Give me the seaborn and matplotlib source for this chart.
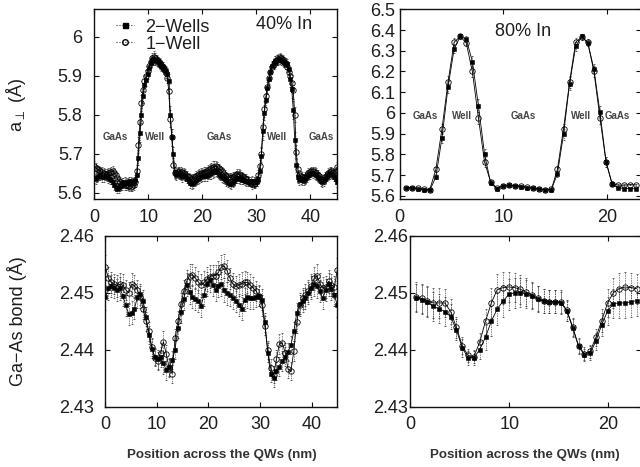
import numpy as np
import matplotlib
matplotlib.use("Agg")
import matplotlib.pyplot as plt
from matplotlib.lines import Line2D
from matplotlib import font_manager as fm
import seaborn as sns

# ---------------- data ----------------
# Top-left: lattice parameter a_perp, 40% In (Angstrom)
x_tl = np.arange(161) * 0.28125
tl_two = [5.637, 5.634, 5.640, 5.643, 5.645, 5.641, 5.640, 5.644, 5.642, 5.638,
          5.635, 5.633, 5.628, 5.620, 5.615, 5.610, 5.612, 5.617, 5.620, 5.626,
          5.628, 5.624, 5.625, 5.629, 5.630, 5.626, 5.628, 5.632, 5.645, 5.690,
          5.752, 5.798, 5.848, 5.876, 5.889, 5.905, 5.920, 5.932, 5.940, 5.943,
          5.940, 5.937, 5.935, 5.930, 5.925, 5.922, 5.918, 5.912, 5.905, 5.885,
          5.800, 5.742, 5.700, 5.652, 5.645, 5.650, 5.648, 5.644, 5.640, 5.645,
          5.642, 5.636, 5.630, 5.625, 5.622, 5.625, 5.628, 5.632, 5.635, 5.638,
          5.640, 5.644, 5.645, 5.643, 5.642, 5.646, 5.648, 5.650, 5.652, 5.654,
          5.655, 5.652, 5.648, 5.643, 5.640, 5.638, 5.635, 5.630, 5.625, 5.623,
          5.622, 5.626, 5.630, 5.635, 5.638, 5.637, 5.635, 5.633, 5.632, 5.631,
          5.630, 5.629, 5.628, 5.630, 5.630, 5.627, 5.628, 5.630, 5.635, 5.655,
          5.695, 5.757, 5.805, 5.838, 5.868, 5.892, 5.910, 5.924, 5.932, 5.937,
          5.940, 5.941, 5.942, 5.940, 5.937, 5.935, 5.933, 5.930, 5.918, 5.892,
          5.865, 5.812, 5.735, 5.670, 5.640, 5.632, 5.635, 5.632, 5.630, 5.635,
          5.640, 5.645, 5.648, 5.650, 5.650, 5.648, 5.645, 5.640, 5.635, 5.630,
          5.628, 5.630, 5.635, 5.640, 5.645, 5.648, 5.650, 5.646, 5.640, 5.634,
          5.628]
tl_one = [5.668, 5.664, 5.660, 5.657, 5.655, 5.652, 5.650, 5.649, 5.648, 5.650,
          5.652, 5.654, 5.655, 5.650, 5.645, 5.638, 5.630, 5.627, 5.625, 5.622,
          5.620, 5.619, 5.618, 5.616, 5.615, 5.617, 5.620, 5.628, 5.655, 5.722,
          5.780, 5.830, 5.864, 5.885, 5.900, 5.912, 5.925, 5.936, 5.944, 5.947,
          5.945, 5.941, 5.937, 5.932, 5.927, 5.922, 5.916, 5.908, 5.895, 5.860,
          5.790, 5.742, 5.672, 5.650, 5.650, 5.654, 5.655, 5.654, 5.652, 5.650,
          5.648, 5.644, 5.640, 5.637, 5.635, 5.637, 5.640, 5.643, 5.645, 5.648,
          5.650, 5.651, 5.652, 5.654, 5.655, 5.658, 5.660, 5.663, 5.665, 5.667,
          5.668, 5.666, 5.662, 5.658, 5.655, 5.650, 5.645, 5.642, 5.640, 5.639,
          5.638, 5.640, 5.642, 5.645, 5.648, 5.647, 5.645, 5.642, 5.640, 5.637,
          5.635, 5.631, 5.628, 5.625, 5.622, 5.623, 5.625, 5.630, 5.645, 5.668,
          5.698, 5.768, 5.815, 5.848, 5.872, 5.893, 5.910, 5.922, 5.930, 5.936,
          5.940, 5.943, 5.945, 5.944, 5.940, 5.936, 5.930, 5.922, 5.910, 5.898,
          5.880, 5.862, 5.800, 5.705, 5.660, 5.645, 5.642, 5.640, 5.638, 5.641,
          5.645, 5.650, 5.652, 5.655, 5.655, 5.653, 5.650, 5.646, 5.642, 5.636,
          5.632, 5.635, 5.640, 5.645, 5.650, 5.653, 5.655, 5.652, 5.648, 5.655,
          5.665]
tl_err = [0.012, 0.013, 0.012, 0.011, 0.012, 0.013, 0.012, 0.011, 0.012, 0.013,
          0.012, 0.012, 0.013, 0.012, 0.011, 0.012, 0.013, 0.012, 0.012, 0.011,
          0.012, 0.013, 0.012, 0.012, 0.011, 0.012, 0.012, 0.013,
          0.015, 0.020, 0.022, 0.020, 0.018, 0.016, 0.015, 0.014,
          0.013, 0.013, 0.014, 0.015, 0.014, 0.013, 0.012, 0.012, 0.013, 0.012,
          0.012, 0.013, 0.014,
          0.018, 0.022, 0.022, 0.018, 0.015,
          0.012, 0.013, 0.012, 0.011, 0.012, 0.013, 0.012, 0.012, 0.011, 0.012,
          0.013, 0.012, 0.011, 0.012, 0.013, 0.012, 0.012, 0.013, 0.014, 0.013,
          0.012, 0.012, 0.013, 0.014, 0.015, 0.014, 0.013, 0.012, 0.012, 0.011,
          0.012, 0.013, 0.012, 0.012, 0.011, 0.012, 0.013, 0.012, 0.012, 0.011,
          0.012, 0.013, 0.012, 0.012, 0.011, 0.012, 0.013, 0.012, 0.012, 0.011,
          0.012, 0.012, 0.013, 0.012, 0.012,
          0.015, 0.020, 0.022, 0.020, 0.018, 0.016, 0.015, 0.014,
          0.013, 0.013, 0.014, 0.014, 0.013, 0.013, 0.012, 0.013, 0.013, 0.012,
          0.013,
          0.016, 0.020, 0.022, 0.022, 0.020, 0.016, 0.014,
          0.012, 0.013, 0.012, 0.011, 0.012, 0.013, 0.012, 0.012, 0.011, 0.012,
          0.013, 0.012, 0.012, 0.011, 0.012, 0.013, 0.012, 0.012, 0.011, 0.012,
          0.013, 0.012, 0.012, 0.011, 0.012, 0.013]

# Bottom-left: Ga-As bond length, 40% In (Angstrom)
x_bl = np.arange(81) * 0.5625
bl_two = [2.4492, 2.4508, 2.4512, 2.4509, 2.4505, 2.4508, 2.4495, 2.4478, 2.4463, 2.4465,
          2.4472, 2.4492, 2.4497, 2.4486, 2.4458, 2.4426, 2.4402, 2.4388, 2.4383, 2.4387,
          2.4376, 2.4364, 2.4369, 2.4382, 2.4400, 2.4438, 2.4466, 2.4489, 2.4514, 2.4502,
          2.4493, 2.4489, 2.4486, 2.4477, 2.4496, 2.4515, 2.4522, 2.4514, 2.4505, 2.4512,
          2.4516, 2.4505, 2.4499, 2.4496, 2.4491, 2.4485, 2.4478, 2.4472, 2.4488, 2.4492,
          2.4490, 2.4491, 2.4493, 2.4495, 2.4488, 2.4448, 2.4395, 2.4358, 2.4350, 2.4362,
          2.4370, 2.4380, 2.4388, 2.4396, 2.4408, 2.4432, 2.4464, 2.4481, 2.4485, 2.4490,
          2.4500, 2.4509, 2.4515, 2.4511, 2.4503, 2.4490, 2.4505, 2.4515, 2.4506, 2.4496,
          2.4478]
bl_one = [2.4545, 2.4525, 2.4518, 2.4515, 2.4512, 2.4515, 2.4513, 2.4505, 2.4500, 2.4515,
          2.4512, 2.4505, 2.4492, 2.4472, 2.4450, 2.4432, 2.4405, 2.4386, 2.4380, 2.4395,
          2.4414, 2.4392, 2.4368, 2.4358, 2.4420, 2.4450, 2.4480, 2.4503, 2.4520, 2.4530,
          2.4531, 2.4526, 2.4519, 2.4513, 2.4518, 2.4524, 2.4528, 2.4530, 2.4530, 2.4536,
          2.4545, 2.4547, 2.4538, 2.4525, 2.4515, 2.4511, 2.4513, 2.4516, 2.4518, 2.4518,
          2.4513, 2.4508, 2.4503, 2.4494, 2.4478, 2.4442, 2.4400, 2.4368, 2.4356, 2.4383,
          2.4410, 2.4412, 2.4395, 2.4366, 2.4362, 2.4398, 2.4448, 2.4478, 2.4490, 2.4496,
          2.4503, 2.4512, 2.4525, 2.4530, 2.4516, 2.4508, 2.4510, 2.4520, 2.4514, 2.4510,
          2.4540]
bl_err = [0.0022, 0.0020, 0.0019, 0.0018, 0.0019, 0.0020, 0.0019, 0.0018, 0.0019, 0.0020,
          0.0019, 0.0018, 0.0019, 0.0018, 0.0017, 0.0016, 0.0016, 0.0015, 0.0016, 0.0017,
          0.0018, 0.0017, 0.0016, 0.0016, 0.0017, 0.0018, 0.0019, 0.0019, 0.0020, 0.0021,
          0.0020, 0.0019, 0.0019, 0.0020, 0.0020, 0.0021, 0.0020, 0.0019, 0.0019, 0.0020,
          0.0021, 0.0021, 0.0020, 0.0019, 0.0019, 0.0018, 0.0019, 0.0020, 0.0020, 0.0019,
          0.0019, 0.0019, 0.0018, 0.0018, 0.0018, 0.0017, 0.0016, 0.0015, 0.0015, 0.0016,
          0.0017, 0.0017, 0.0016, 0.0016, 0.0016, 0.0017, 0.0018, 0.0018, 0.0019, 0.0019,
          0.0019, 0.0020, 0.0020, 0.0020, 0.0019, 0.0019, 0.0019, 0.0020, 0.0019, 0.0019,
          0.0020]

# Right panels: 80% In
x_r = 0.55 + np.arange(39) * 0.587
tr_two = [5.639, 5.638, 5.634, 5.630, 5.627, 5.691, 5.880, 6.125, 6.308, 6.369,
          6.356, 6.248, 6.035, 5.803, 5.663, 5.635, 5.647, 5.650, 5.647, 5.644,
          5.639, 5.636, 5.631, 5.628, 5.629, 5.707, 5.896, 6.141, 6.321, 6.369,
          6.337, 6.212, 6.003, 5.764, 5.655, 5.639, 5.635, 5.635, 5.633]
tr_one = [5.640, 5.639, 5.636, 5.632, 5.630, 5.728, 5.923, 6.149, 6.341, 6.369,
          6.337, 6.200, 5.976, 5.764, 5.667, 5.639, 5.648, 5.651, 5.649, 5.646,
          5.641, 5.638, 5.633, 5.630, 5.631, 5.728, 5.923, 6.149, 6.341, 6.366,
          6.340, 6.200, 5.976, 5.764, 5.659, 5.651, 5.651, 5.654, 5.652]
tr_err = [0.004, 0.004, 0.004, 0.004, 0.005, 0.012, 0.025, 0.030, 0.020, 0.012,
          0.015, 0.025, 0.030, 0.025, 0.010, 0.005, 0.004, 0.004, 0.004, 0.004,
          0.004, 0.004, 0.004, 0.004, 0.006, 0.015, 0.025, 0.030, 0.020, 0.012,
          0.015, 0.025, 0.030, 0.025, 0.010, 0.005, 0.004, 0.004, 0.004]
br_two = [2.4491, 2.4488, 2.4484, 2.4476, 2.4472, 2.4467, 2.4458, 2.4435, 2.4403, 2.4386,
          2.4386, 2.4400, 2.4422, 2.4450, 2.4471, 2.4485, 2.4497, 2.4500, 2.4500, 2.4498,
          2.4494, 2.4489, 2.4485, 2.4484, 2.4484, 2.4482, 2.4468, 2.4438, 2.4406, 2.4391,
          2.4394, 2.4415, 2.4444, 2.4468, 2.4481, 2.4482, 2.4482, 2.4484, 2.4486]
br_one = [2.4493, 2.4490, 2.4486, 2.4482, 2.4482, 2.4482, 2.4467, 2.4439, 2.4407, 2.4390,
          2.4388, 2.4413, 2.4450, 2.4482, 2.4505, 2.4509, 2.4510, 2.4509, 2.4506, 2.4501,
          2.4496, 2.4490, 2.4486, 2.4484, 2.4484, 2.4484, 2.4469, 2.4440, 2.4407, 2.4393,
          2.4397, 2.4422, 2.4451, 2.4482, 2.4500, 2.4507, 2.4510, 2.4509, 2.4507]
br_err = [0.0025, 0.0025, 0.0026, 0.0026, 0.0026, 0.0025, 0.0022, 0.0018, 0.0015, 0.0012,
          0.0012, 0.0016, 0.0022, 0.0026, 0.0028, 0.0028, 0.0027, 0.0026, 0.0025, 0.0024,
          0.0023, 0.0022, 0.0021, 0.0020, 0.0020, 0.0020, 0.0018, 0.0016, 0.0013, 0.0011,
          0.0012, 0.0015, 0.0020, 0.0024, 0.0026, 0.0027, 0.0027, 0.0026, 0.0026]

series_labels = ["2\u2212Wells", "1\u2212Well"]
panel_tags = ["40% In", "80% In"]
region_tl = [("GaAs", 3.95), ("Well", 11.3), ("GaAs", 23.05), ("Well", 33.9), ("GaAs", 42.0)]
region_tr = [("GaAs", 2.47), ("Well", 5.98), ("GaAs", 11.97), ("Well", 17.5), ("GaAs", 21.0)]

# ---------------- style ----------------
sns.set_style("ticks")
plt.rcParams["font.family"] = ["Liberation Sans", "DejaVu Sans"]
plt.rcParams["mathtext.fontset"] = "dejavusans"
names = {f.name for f in fm.fontManager.ttflist}
if "Liberation Sans Narrow" in names:
    narrow, xlab_size = "Liberation Sans Narrow", 11.5
else:
    narrow, xlab_size = "Liberation Sans", 9.6
TXT = "#1e1e1e"

fig = plt.figure(figsize=(6.4, 4.67), dpi=100)
ax_tl = fig.add_axes([0.1475, 0.5732, 0.3795, 0.4069])
ax_tr = fig.add_axes([0.6247, 0.5732, 0.3769, 0.4069])
ax_bl = fig.add_axes([0.1648, 0.1291, 0.3622, 0.3662])
ax_br = fig.add_axes([0.6411, 0.1291, 0.3605, 0.3662])


def draw(ax, x, y2, y1, err):
    for y in (y2, y1):
        eb = ax.errorbar(x, y, yerr=err, fmt="none", ecolor="#333333",
                         elinewidth=0.55, capsize=0.8, capthick=0.5, zorder=1)
        for coll in eb[2]:
            coll.set_linestyle((0, (1, 1.2)))
    sns.lineplot(x=x, y=y2, ax=ax, color="black", linewidth=0.6, marker="s",
                 markersize=3.5, markerfacecolor="black", markeredgecolor="black",
                 markeredgewidth=0.4, estimator=None, sort=False, zorder=3)
    sns.lineplot(x=x, y=y1, ax=ax, color="black", linewidth=0.6, marker="o",
                 markersize=3.9, markerfacecolor="none", markeredgecolor="black",
                 markeredgewidth=0.6, estimator=None, sort=False, zorder=4)


draw(ax_tl, x_tl, tl_two, tl_one, tl_err)
draw(ax_bl, x_bl, bl_two, bl_one, bl_err)
draw(ax_tr, x_r, tr_two, tr_one, tr_err)
draw(ax_br, x_r, br_two, br_one, br_err)

ax_tl.set_xlim(0, 45)
ax_bl.set_xlim(0, 45)
ax_tr.set_xlim(0, 23.3)
ax_br.set_xlim(0, 23.3)
ax_tl.set_ylim(5.583, 6.07)
ax_tr.set_ylim(5.583, 6.5)
ax_bl.set_ylim(2.43, 2.46)
ax_br.set_ylim(2.43, 2.46)

ax_tl.set_xticks([0, 10, 20, 30, 40])
ax_bl.set_xticks([0, 10, 20, 30, 40])
ax_tr.set_xticks([0, 10, 20])
ax_br.set_xticks([0, 10, 20])
ax_tl.set_yticks([5.6, 5.7, 5.8, 5.9, 6.0])
ax_tr.set_yticks([5.6, 5.7, 5.8, 5.9, 6.0, 6.1, 6.2, 6.3, 6.4, 6.5])
ax_bl.set_yticks([2.43, 2.44, 2.45, 2.46])
ax_br.set_yticks([2.43, 2.44, 2.45, 2.46])

for ax in (ax_tl, ax_tr):
    ax.yaxis.set_major_formatter(matplotlib.ticker.FuncFormatter(lambda v, p: f"{v:g}"))
for ax in (ax_bl, ax_br):
    ax.yaxis.set_major_formatter(matplotlib.ticker.FormatStrFormatter("%.2f"))

ypads = {ax_tl: 8.5, ax_bl: 8.5, ax_tr: 3.2, ax_br: 1.5}
for ax in (ax_tl, ax_tr, ax_bl, ax_br):
    ax.set_xlabel("")
    ax.set_ylabel("")
    for s in ax.spines.values():
        s.set_visible(True)
        s.set_linewidth(1.0)
        s.set_color("#111111")
    ax.tick_params(axis="both", direction="in", top=True, right=True, length=3.5,
                   width=0.8, labelsize=13, labelcolor=TXT, color="#111111")
    ax.tick_params(axis="x", pad=7)
    ax.tick_params(axis="y", pad=ypads[ax])

# region annotations
for name, xv in region_tl:
    ax_tl.text(xv, 5.743, name, ha="center", va="center", fontsize=7, fontweight="bold",
               color="#444444", family=narrow, zorder=5)
for name, xv in region_tr:
    ax_tr.text(xv, 5.986, name, ha="center", va="center", fontsize=7, fontweight="bold",
               color="#444444", family=narrow, zorder=5)
ax_tl.text(35.05, 6.03, panel_tags[0], ha="center", va="center", fontsize=13, color=TXT)
ax_tr.text(11.93, 6.392, panel_tags[1], ha="center", va="center", fontsize=13, color=TXT)

# legend
handles = [
    Line2D([], [], color="#3a3a3a", linestyle=":", linewidth=0.8, marker="s",
           markersize=3.6, markerfacecolor="black", markeredgecolor="black"),
    Line2D([], [], color="#3a3a3a", linestyle=":", linewidth=0.8, marker="o",
           markersize=4.0, markerfacecolor="none", markeredgecolor="black"),
]
ax_tl.legend(handles, series_labels, loc="upper left", bbox_to_anchor=(0.08, 0.96),
             frameon=False, fontsize=13, handlelength=1.0, handletextpad=0.65,
             labelspacing=0.0, borderaxespad=0.0, borderpad=0.1, labelcolor=TXT)

# axis labels
fig.text(0.025, 0.775, r"a$_{\perp}$ (Å)", rotation=90, ha="center", va="center",
         fontsize=13, color=TXT)
fig.text(0.027, 0.3126, "Ga\u2212As bond (Å)", rotation=90, ha="center", va="center",
         fontsize=13, color=TXT)
for xc in (0.347, 0.820):
    fig.text(xc, 0.0257, "Position across the QWs (nm)", ha="center", va="center",
             fontsize=xlab_size, fontweight="bold", color="#333333", family=narrow)

fig.savefig("out.png", dpi=100)
